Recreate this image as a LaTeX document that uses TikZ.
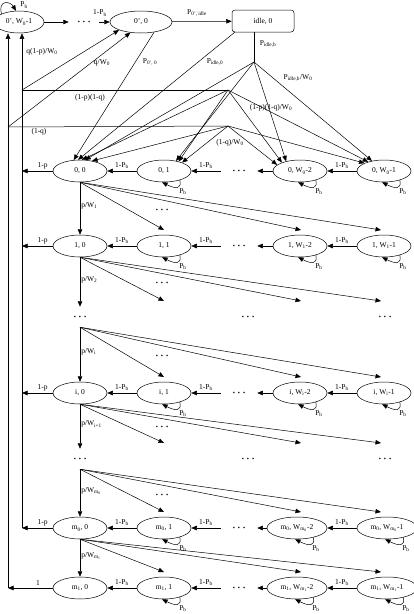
\documentclass[tikz,border=0pt]{standalone}
\usepackage{fontspec}
\setmainfont{Liberation Serif}
\usetikzlibrary{shapes.geometric,arrows.meta}
\newcommand{\lo}[1]{\textsubscript{#1}}
\newcommand{\dts}{{\fontsize{10}{10}\selectfont\boldmath$\cdots$}}

\begin{document}
\begin{tikzpicture}[x=1pt, y=-1pt, line width=0.5pt,
    font=\fontsize{7.5}{9}\selectfont,
    arr/.style={-{Triangle[length=5.5pt,width=4.5pt]}},
    state/.style={draw, ellipse, minimum width=54pt, minimum height=22pt,
                  inner sep=1pt},
    gap/.style={minimum width=36pt, minimum height=20pt, inner sep=0pt},
    lbl/.style={inner sep=1pt}]
    \useasboundingbox (0,0) rectangle (414,614);

    \foreach \rn/\ry/\stg/\wi/\ww/\side/\out in
       {a/171/0/W\lo{0}/54/lA/1-p, b/246/1/W\lo{1}/54/lA/1-p,
        c/393/i/W\lo{i}/54/lA/1-p, d/528/m\lo{0}/W\lo{m\lo{0}}/60/lA/1-p,
        e/588/m\lo{1}/W\lo{m\lo{1}}/60/lB/1} {
      \coordinate (lA) at (22,528);
      \coordinate (lB) at (8,588);
      \node[state] (\rn0) at (80,\ry) {\stg, 0};
      \node[state] (\rn1) at (164,\ry) {\stg, 1};
      \node[gap] (\rn d) at (239,\ry) {\dts};
      \node[state, minimum width=\ww*1pt] (\rn2) at ({300-(\ww-54)/2},\ry) {\stg, \wi-2};
      \node[state, minimum width=\ww*1pt] (\rn3) at ({384+(\ww-54)/2},\ry) {\stg, \wi-1};
      \draw[arr] (\rn1) -- (\rn0) node[lbl, midway, above=1pt] {1-P\lo{b}};
      \draw[arr] (\rn d) -- (\rn1) node[lbl, midway, above=1pt] {1-P\lo{b}};
      \draw[arr] (\rn2) -- (\rn d);
      \draw[arr] (\rn3) -- (\rn2) node[lbl, midway, above=1pt] {1-P\lo{b}};
      \draw[arr] (\rn0) -- (\rn0 -| \side) node[lbl, pos=.33, above=1pt] {\out};
      \foreach \k in {1,2,3}
        \draw[arr] (\rn\k.-30) .. controls +(2,9) and +(14,7) .. (\rn\k.-100)
          node[lbl, anchor=north west] at ([xshift=14pt, yshift=-16pt]\rn\k.center) {P\lo{b}};
    }

    \node[gap] (p0) at (80,317) {\dts};
    \node (p2) at (248,317) {\dts};
    \node (p3) at (385,317) {\dts};
    \node[gap] (q0) at (80,459) {\dts};
    \node (q2) at (248,459) {\dts};
    \node (q3) at (385,459) {\dts};

    \foreach \fr/\fy/\nx/\ty/\pl/\fd in
       {a/171/b/246/W\lo{1}/1, b/246/p/317/W\lo{2}/1, p/317/c/393/W\lo{i}/1,
        c/393/q/459/W\lo{i+1}/1, q/459/d/528/W\lo{m\lo{0}}/1,
        d/528/e/588/W\lo{m\lo{1}}/0} {
      \draw[arr] (\fr0) -- (\nx0) node[lbl, pos=.45, right] {p/\pl};
      \coordinate (\nx t1) at (164,\ty-16);
      \coordinate (\nx t2) at (301,\ty-16);
      \coordinate (\nx t3) at (381,\ty-16);
      \foreach \k in {1,2,3}
        \draw[arr] (\fr0.south) -- (\nx t\k);
      \ifnum\fd=1 \node (\fr f) at (162,{(\fy+\ty)/2+1.5}) {\dts}; \fi
    }

    \node[state, minimum width=50pt] (top1) at (19,22) {0', W\lo{0}-1};
    \node[gap, minimum width=30pt] (topd) at (84,22) {\dts};
    \node[state, minimum width=62pt] (top0) at (141,22) {0', 0};
    \node[draw, rounded corners=3pt, minimum width=62pt, minimum height=22pt]
         (idle) at (263,21) {idle, 0};
    \coordinate (ai) at (254,62);
    \coordinate (jA) at (22,90);
    \coordinate (pA) at (228,90);
    \coordinate (jB) at (8,127);
    \coordinate (pB) at (228,126);

    \draw[arr] (top1.155) .. controls +(-4,-14) and +(-6,-10) .. (top1.105)
      node[lbl] at (24,5) {P\lo{b}};
    \draw[arr] (top1) -- (topd);
    \draw[arr] (topd) -- (top0) node[lbl] at (100,13) {1-P\lo{b}};
    \draw[arr] (top0) -- (idle) node[lbl] at (197,13) {P\lo{0', idle}};
    \draw (idle.south -| ai) -- (ai) node[lbl] at (268,44) {P\lo{idle,b}};
    \draw[arr] ([xshift=3pt]idle.south west) -- (a0.100)
      node[lbl] at (215,62) {P\lo{idle,0}};
    \draw[arr] (top0.-38) -- (a0.120) node[lbl] at (150,62) {P\lo{0', 0}};

    \draw[arr] (lA) -- (lA |- top1.south);
    \draw[arr] (lB) -- (lB |- top1.south);
    \draw (jA) -- (pA) node[lbl] at (90,98) {(1-p)(1-q)};
    \draw (jB) -- (pB) node[lbl] at (39,132) {(1-q)};
    \draw[arr] (jA) -- (top0.200) node[lbl] at (42,52) {q(1-p)/W\lo{0}};
    \draw[arr] (jB) -- (top0.225) node[lbl] at (102,63) {q/W\lo{0}};

    \draw[arr] (ai) -- (a0.65);
    \draw[arr] (ai) -- (a1.40);
    \draw[arr] (ai) -- (a2.145);
    \draw[arr] (ai) -- (a3.140) node[lbl] at (298,78) {P\lo{idle,b}/W\lo{0}};
    \draw[arr] (pA) -- (a0.80);
    \draw[arr] (pA) -- (a1.33);
    \draw[arr] (pA) -- (a2.155);
    \draw[arr] (pA) -- (a3.150) node[lbl] at (271,108) {(1-p)(1-q)/W\lo{0}};
    \draw[arr] (pB) -- (a0.40);
    \draw[arr] (pB) -- (a1.25);
    \draw[arr] (pB) -- (a2.165);
    \draw[arr] (pB) -- (a3.158) node[lbl] at (230,143) {(1-q)/W\lo{0}};
\end{tikzpicture}
\end{document}
